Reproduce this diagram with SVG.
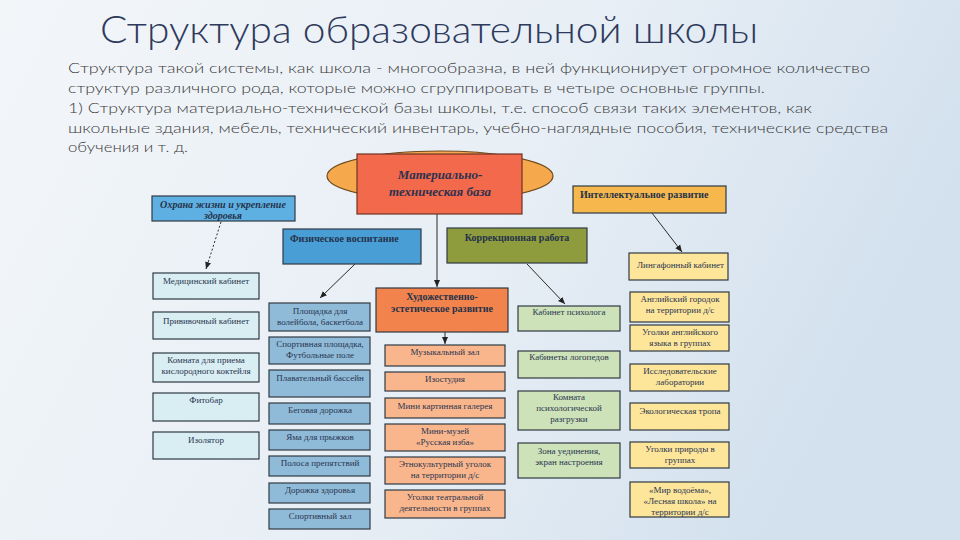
<svg xmlns="http://www.w3.org/2000/svg" width="960" height="540" viewBox="0 0 960 540">
<defs>
<linearGradient id="bg" x1="0" y1="0" x2="1" y2="0.3">
<stop offset="0" stop-color="#f3f6f9"/>
<stop offset="0.6" stop-color="#e7eef5"/>
<stop offset="1" stop-color="#d3e1ee"/>
</linearGradient>
<marker id="ah" markerWidth="8" markerHeight="8" refX="7" refY="4" orient="auto" markerUnits="userSpaceOnUse">
<path d="M0,1 L7,4 L0,7 Z" fill="#222"/>
</marker>
<style>
.title{font-family:"Lato","Open Sans","DejaVu Sans",sans-serif;font-size:38px;font-weight:300;fill:#2e3a5c}
.para{font-family:"Lato","Open Sans","DejaVu Sans",sans-serif;font-size:14.5px;font-weight:300;fill:#3a3a3a}
.box{stroke:#2f3a44;stroke-width:1.2}
.head{font-family:"Liberation Serif","Times New Roman",serif;font-size:10px;font-weight:bold;fill:#24324a}
.headi{font-family:"Liberation Serif","Times New Roman",serif;font-size:10px;font-weight:bold;font-style:italic;fill:#24324a}
.big{font-family:"Liberation Serif","Times New Roman",serif;font-size:13px;font-weight:bold;font-style:italic;fill:#2e3150}
.t{font-family:"Liberation Serif","Times New Roman",serif;font-size:9px;fill:#2a3550;text-anchor:middle}
.tl{font-family:"Liberation Serif","Times New Roman",serif;font-size:9px;fill:#2a3550}
.cyan{fill:#d9eef2}
.sky{fill:#8fbbd9}
.peach{fill:#f9b68c}
.green{fill:#cde2b8}
.yellow{fill:#fde59a}
.conn{stroke:#2a2a2a;stroke-width:1;fill:none}
</style>
</defs>
<rect width="960" height="540" fill="url(#bg)"/>
<text class="title" x="100" y="43" textLength="658" lengthAdjust="spacingAndGlyphs">Структура образовательной школы</text>
<g id="intro">
<text class="para" x="68" y="73" textLength="802" lengthAdjust="spacingAndGlyphs">Структура такой системы, как школа - многообразна, в ней функционирует огромное количество</text>
<text class="para" x="68" y="93" textLength="697" lengthAdjust="spacingAndGlyphs">структур различного рода, которые можно сгруппировать в четыре основные группы.</text>
<text class="para" x="68" y="113" textLength="744" lengthAdjust="spacingAndGlyphs">1) Структура материально-технической базы школы, т.е. способ связи таких элементов, как</text>
<text class="para" x="68" y="133" textLength="820" lengthAdjust="spacingAndGlyphs">школьные здания, мебель, технический инвентарь, учебно-наглядные пособия, технические средства</text>
<text class="para" x="68" y="152" textLength="120" lengthAdjust="spacingAndGlyphs">обучения и т. д.</text>
</g>

<g id="connectors">
<line class="conn" x1="437" y1="214" x2="437" y2="287" marker-end="url(#ah)"/>
<line class="conn" x1="221" y1="222" x2="206" y2="269" stroke-dasharray="2,2" marker-end="url(#ah)"/>
<line class="conn" x1="355" y1="264" x2="320" y2="298" marker-end="url(#ah)"/>
<line class="conn" x1="527" y1="264" x2="565" y2="304" marker-end="url(#ah)"/>
<line class="conn" x1="652" y1="213" x2="682" y2="252" marker-end="url(#ah)"/>
<line class="conn" x1="445" y1="332" x2="445" y2="344" marker-end="url(#ah)"/>
</g>

<g id="mtb">
<ellipse cx="440" cy="176" rx="113" ry="25" fill="#f6a84c" stroke="#6e4a1e" stroke-width="1.2"/>
<rect x="357" y="154" width="165" height="60" fill="#f26a4b" stroke="#6e3424" stroke-width="1.2"/>
<text class="big" x="440" y="179" text-anchor="middle">Материально-</text>
<text class="big" x="440" y="196" text-anchor="middle">техническая база</text>
</g>

<g id="ohrana">
<rect class="box" x="152" y="196" width="143" height="25" fill="#5fb0e2"/>
<text class="headi" x="223" y="208" text-anchor="middle">Охрана жизни и укрепление</text>
<text class="headi" x="223" y="219" text-anchor="middle">здоровья</text>
</g>
<g id="fiz">
<rect class="box" x="283" y="229" width="138" height="35" fill="#4a9ed6"/>
<text class="head" x="290" y="242">Физическое воспитание</text>
</g>
<g id="korr">
<rect class="box" x="447" y="228" width="140" height="35" fill="#8f9c3e"/>
<text class="head" x="517" y="241" text-anchor="middle">Коррекционная работа</text>
</g>
<g id="intel">
<rect class="box" x="573" y="186" width="153" height="27" fill="#f6b84c"/>
<text class="head" x="580" y="198">Интеллектуальное развитие</text>
</g>
<g id="hud">
<rect class="box" x="376" y="288" width="132" height="44" fill="#f3834c"/>
<text class="head" x="442" y="300" text-anchor="middle">Художественно-</text>
<text class="head" x="442" y="312" text-anchor="middle">эстетическое развитие</text>
</g>

<!-- left column -->
<g id="med"><rect class="box cyan" x="153" y="273" width="106" height="26"/><text class="t" x="206" y="284">Медицинский кабинет</text></g>
<g id="priv"><rect class="box cyan" x="153" y="312" width="106" height="27"/><text class="t" x="206" y="324">Прививочный кабинет</text></g>
<g id="kisl"><rect class="box cyan" x="153" y="353" width="106" height="29"/><text class="t" x="206" y="363">Комната для  приема</text><text class="t" x="206" y="374">кислородного коктейля</text></g>
<g id="fito"><rect class="box cyan" x="153" y="393" width="106" height="28"/><text class="t" x="206" y="403">Фитобар</text></g>
<g id="izol"><rect class="box cyan" x="153" y="432" width="106" height="27"/><text class="t" x="206" y="443">Изолятор</text></g>

<!-- physical column -->
<g id="plosh"><rect class="box sky" x="269" y="303" width="101" height="28"/><text class="t" x="320" y="314">Площадка  для</text><text class="t" x="320" y="325">волейбола, баскетбола</text></g>
<g id="sport"><rect class="box sky" x="269" y="337" width="101" height="27"/><text class="t" x="320" y="347">Спортивная площадка,</text><text class="t" x="320" y="358">Футбольные поле</text></g>
<g id="bass"><rect class="box sky" x="269" y="370" width="101" height="27"/><text class="t" x="320" y="381">Плавательный бассейн</text></g>
<g id="beg"><rect class="box sky" x="269" y="403" width="101" height="21"/><text class="t" x="320" y="413">Беговая дорожка</text></g>
<g id="yama"><rect class="box sky" x="269" y="430" width="101" height="20"/><text class="t" x="320" y="440">Яма для прыжков</text></g>
<g id="polosa"><rect class="box sky" x="269" y="456" width="101" height="20"/><text class="t" x="320" y="466">Полоса препятствий</text></g>
<g id="dorozh"><rect class="box sky" x="269" y="483" width="101" height="20"/><text class="t" x="320" y="493">Дорожка здоровья</text></g>
<g id="zal"><rect class="box sky" x="269" y="509" width="101" height="20"/><text class="t" x="320" y="519">Спортивный зал</text></g>

<!-- art column -->
<g id="muz"><rect class="box peach" x="385" y="345" width="120" height="21"/><text class="t" x="445" y="355">Музыкальный зал</text></g>
<g id="izo"><rect class="box peach" x="385" y="372" width="120" height="19"/><text class="t" x="445" y="382">Изостудия</text></g>
<g id="gal"><rect class="box peach" x="385" y="398" width="120" height="20"/><text class="t" x="445" y="409">Мини картинная галерея</text></g>
<g id="izba"><rect class="box peach" x="385" y="424" width="120" height="27"/><text class="t" x="445" y="434">Мини-музей</text><text class="t" x="445" y="445">«Русская изба»</text></g>
<g id="etno"><rect class="box peach" x="385" y="457" width="120" height="27"/><text class="t" x="445" y="467">Этнокультурный уголок</text><text class="t" x="445" y="478">на территории д/с</text></g>
<g id="teatr"><rect class="box peach" x="385" y="490" width="120" height="28"/><text class="t" x="445" y="500">Уголки театральной</text><text class="t" x="445" y="511">деятельности в группах</text></g>

<!-- green column -->
<g id="psih"><rect class="box green" x="518" y="306" width="102" height="25"/><text class="t" x="569" y="315">Кабинет психолога</text></g>
<g id="logo"><rect class="box green" x="518" y="351" width="102" height="27"/><text class="t" x="569" y="360">Кабинеты логопедов</text></g>
<g id="razgr"><rect class="box green" x="518" y="391" width="102" height="39"/><text class="t" x="569" y="400">Комната</text><text class="t" x="569" y="411">психологической</text><text class="t" x="569" y="422">разгрузки</text></g>
<g id="zona"><rect class="box green" x="518" y="443" width="102" height="35"/><text class="t" x="569" y="454">Зона уединения,</text><text class="t" x="569" y="465">экран настроения</text></g>

<!-- right column -->
<g id="linga"><rect class="box yellow" x="629" y="253" width="99" height="27"/><text class="tl" x="637" y="268">Лингафонный кабинет</text></g>
<g id="angl"><rect class="box yellow" x="630" y="292" width="99" height="30"/><text class="t" x="680" y="302">Английский городок</text><text class="t" x="680" y="313">на территории д/с</text></g>
<g id="ugangl"><rect class="box yellow" x="630" y="325" width="99" height="26"/><text class="t" x="680" y="335">Уголки английского</text><text class="t" x="680" y="346">языка  в группах</text></g>
<g id="issl"><rect class="box yellow" x="630" y="364" width="99" height="27"/><text class="t" x="680" y="374">Исследовательские</text><text class="t" x="680" y="385">лаборатории</text></g>
<g id="eko"><rect class="box yellow" x="630" y="403" width="99" height="27"/><text class="t" x="680" y="414">Экологическая тропа</text></g>
<g id="priroda"><rect class="box yellow" x="630" y="442" width="99" height="26"/><text class="t" x="680" y="452">Уголки природы в</text><text class="t" x="680" y="463">группах</text></g>
<g id="mir"><rect class="box yellow" x="630" y="482" width="99" height="35"/><text class="t" x="680" y="493">«Мир водоёма»,</text><text class="t" x="680" y="504">«Лесная школа» на</text><text class="t" x="680" y="515">территории  д/с</text></g>
</svg>
